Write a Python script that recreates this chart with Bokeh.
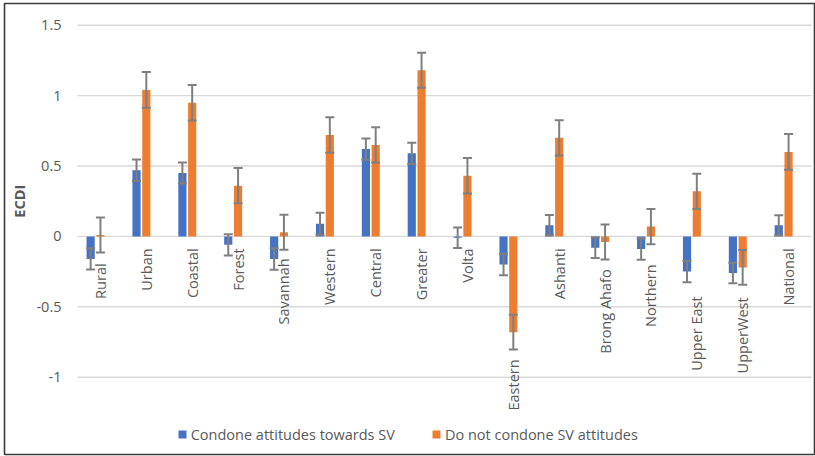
import math
from bokeh.plotting import figure
from bokeh.models import (ColumnDataSource, Whisker, TeeHead, Legend, LegendItem, Range1d)
from bokeh.transform import dodge
from bokeh.core.properties import value
from bokeh.embed import file_html
from bokeh.resources import INLINE

# ---------------- data ----------------
categories = ["Rural", "Urban", "Coastal", "Forest", "Savannah", "Western", "Central",
              "Greater", "Volta", "Eastern", "Ashanti", "Brong Ahafo", "Northern",
              "Upper East", "UpperWest", "National"]
condone = [-0.16, 0.47, 0.45, -0.06, -0.16, 0.09, 0.62, 0.59, -0.01, -0.20, 0.08,
           -0.08, -0.09, -0.25, -0.26, 0.08]
condone_err = [0.075, 0.076, 0.074, 0.076, 0.076, 0.078, 0.076, 0.076, 0.073, 0.076,
               0.072, 0.073, 0.076, 0.075, 0.073, 0.071]
not_condone = [0.01, 1.04, 0.95, 0.36, 0.03, 0.72, 0.65, 1.18, 0.43, -0.68, 0.70,
               -0.04, 0.07, 0.32, -0.22, 0.60]
not_condone_err = [0.125, 0.127, 0.126, 0.125, 0.124, 0.126, 0.126, 0.125, 0.126, 0.124,
                   0.125, 0.124, 0.125, 0.125, 0.124, 0.127]
y_ticks = [-1, -0.5, 0, 0.5, 1, 1.5]
y_tick_labels = ["-1", "-0.5", "0", "0.5", "1", "1.5"]
series_names = ["Condone attitudes towards SV", "Do not condone SV attitudes"]
axis_title = "ECDI"

# ---------------- layout / style (pixels) ----------------
W, H = 815, 456
MB_L, MB_R, MB_T, MB_B = 4, 1, 3, 2          # chart border = frame outline
FR_L, FR_R, FR_T, FR_B = MB_L, W - MB_R, MB_T, H - MB_B
PLOT_L, PLOT_R = 77.0, 811.0                  # Excel plot area (x)
PLOT_T, PLOT_B = 24.7, 376.7                  # Excel plot area (y: top tick .. bottom tick)
n = len(categories)
PX_PER_CAT = (PLOT_R - PLOT_L) / n
PX_PER_UNIT = (PLOT_B - PLOT_T) / (y_ticks[-1] - y_ticks[0])
x0 = -0.5 - (PLOT_L - FR_L) / PX_PER_CAT
x1 = n - 0.5 + (FR_R - PLOT_R) / PX_PER_CAT
y1 = y_ticks[-1] + (PLOT_T - FR_T) / PX_PER_UNIT
y0 = y_ticks[0] - (FR_B - PLOT_B) / PX_PER_UNIT

# how far (px) below the zero line each category label starts (layout only)
LABEL_DROP_PX = [27, 12, 12, 12, 22, 12, 12, 12, 12, 123, 12, 33, 28, 60, 61, 12]
SLOT = 0.2135
BAR_W = 0.178
BLUE, ORANGE, ERR = "#4472c4", "#ed7d31", "#7f7f7f"
TXT = "#595959"
GRID = "#d9d9d9"
FONT = "Open Sans"
FS = "14.5px"

src = ColumnDataSource(dict(
    x=list(range(n)),
    cat=categories,
    condone=condone,
    not_condone=not_condone,
    c_up=[v + e for v, e in zip(condone, condone_err)],
    c_lo=[v - e for v, e in zip(condone, condone_err)],
    n_up=[v + e for v, e in zip(not_condone, not_condone_err)],
    n_lo=[v - e for v, e in zip(not_condone, not_condone_err)],
    lbl_y=[-d / PX_PER_UNIT for d in LABEL_DROP_PX],
))
tick_src = ColumnDataSource(dict(y=y_ticks, lab=y_tick_labels))

p = figure(width=W, height=H, x_range=Range1d(x0, x1), y_range=Range1d(y0, y1),
           output_backend="svg", toolbar_location=None, x_axis_location=None,
           y_axis_location=None, min_border_left=MB_L, min_border_right=MB_R,
           min_border_top=MB_T, min_border_bottom=MB_B)
p.outline_line_color = "#3a3a3a"
p.outline_line_width = 1.6
p.xgrid.visible = False
p.ygrid.visible = False

# gridlines across the plot area only
p.segment(x0=-0.5, x1=n - 0.5, y0="y", y1="y", line_color=GRID, line_width=1.4,
          source=tick_src)
# y tick labels
p.text(x=-0.5 - 16 / PX_PER_CAT, y="y", text="lab", text_align="right",
       text_baseline="middle", text_font=value(FONT), text_font_size=value(FS),
       text_color=TXT, source=tick_src)
# axis title
p.text(x=[-0.5 - (PLOT_L - 18.5) / PX_PER_CAT], y=[(y_ticks[0] + y_ticks[-1]) / 2],
       text=[axis_title], angle=math.pi / 2, text_align="center", text_baseline="middle",
       text_font=value(FONT), text_font_size=value(FS), text_font_style="bold",
       text_color=TXT)

r1 = p.vbar(x=dodge("x", -SLOT), top="condone", width=BAR_W, fill_color=BLUE,
            line_color=None, source=src)
r2 = p.vbar(x=dodge("x", 0), top="not_condone", width=BAR_W, fill_color=ORANGE,
            line_color=None, source=src)

for base, up, lo in [(dodge("x", -SLOT), "c_up", "c_lo"), (dodge("x", 0), "n_up", "n_lo")]:
    w = Whisker(base=base, upper=up, lower=lo, source=src, dimension="height",
                line_color=ERR, line_width=2,
                upper_head=TeeHead(size=9, line_color=ERR, line_width=2),
                lower_head=TeeHead(size=9, line_color=ERR, line_width=2))
    w.level = "overlay"
    p.add_layout(w)

# category labels
p.text(x="x", y="lbl_y", text="cat", angle=math.pi / 2, text_align="right",
       text_baseline="middle", text_font=value(FONT), text_font_size=value(FS),
       text_color=TXT, source=src)

legend = Legend(items=[LegendItem(label=series_names[0], renderers=[r1]),
                       LegendItem(label=series_names[1], renderers=[r2])],
                orientation="horizontal", location=(176.7 - FR_L, FR_B - 444),
                glyph_width=10, glyph_height=10, label_standoff=4, spacing=36,
                padding=0, margin=0, border_line_color=None, background_fill_alpha=0,
                label_height=20, label_text_font=FONT, label_text_font_size=FS,
                label_text_color=TXT)
p.add_layout(legend)

open("out.html", "w").write(file_html(p, INLINE))
